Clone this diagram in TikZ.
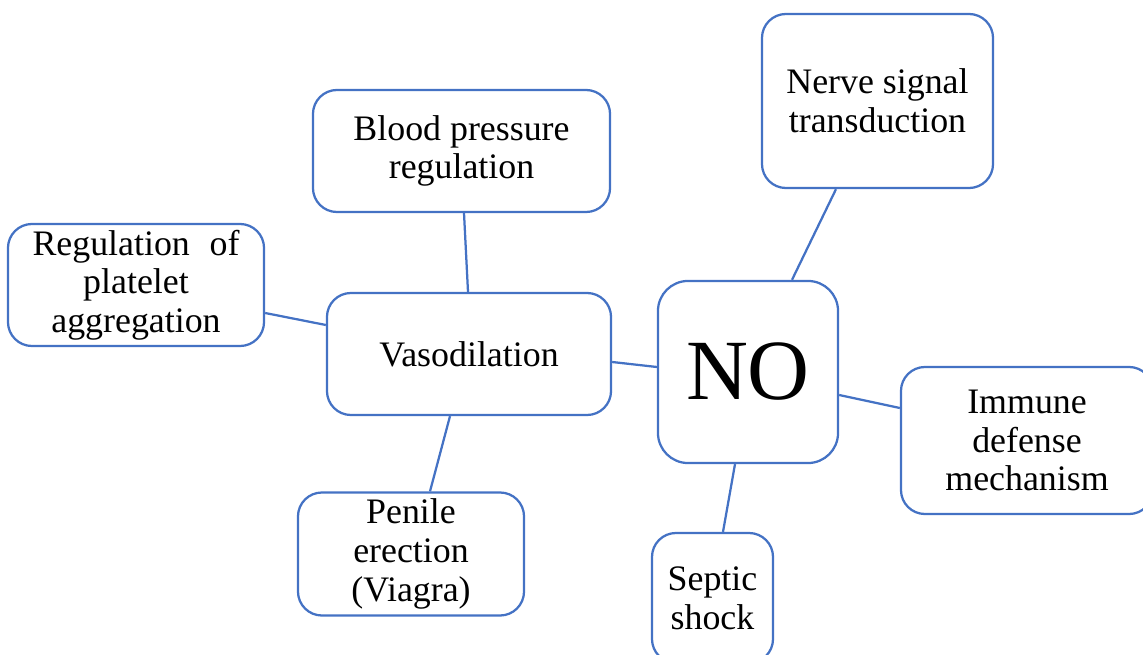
\documentclass[tikz,border=0pt]{standalone}
\usepackage{fontspec}
\setmainfont{Liberation Serif}
\usetikzlibrary{calc,positioning}
\definecolor{nodeblue}{HTML}{4472C4}

\begin{document}
\begin{tikzpicture}[x=0.025cm, y=-0.025cm]
\tikzstyle{box}=[rectangle, rounded corners=0.6cm, draw=nodeblue, line width=1.6pt, fill=white, align=center, inner sep=0pt, font=\fontsize{25.5}{27.5}\selectfont]
\tikzstyle{connect}=[draw=nodeblue, line width=1.6pt]

\useasboundingbox (0,0) rectangle (1143,655);
\clip (0,0) rectangle (1143,655);

\node[box, minimum width=4.5cm, minimum height=4.55cm, rounded corners=0.75cm, font=\fontsize{61}{61}\selectfont] at (748,372) (no) {NO};
\node[box, minimum width=7.1cm, minimum height=3.05cm] at (469,354) (vaso) {Vasodilation};
\node[box, minimum width=5.775cm, minimum height=4.35cm] at (877.5,101) (nerve) {Nerve signal\\transduction};
\node[box, minimum width=7.425cm, minimum height=3.05cm] at (461.5,151) (blood) {Blood pressure\\regulation};
\node[box, minimum width=6.4cm, minimum height=3.05cm] at (136,285) (platelet) {Regulation\hspace{0.3em} of\\platelet\\aggregation};
\node[box, minimum width=6.3cm, minimum height=3.675cm] at (1027,440.5) (immune) {Immune\\defense\\mechanism};
\node[box, minimum width=5.65cm, minimum height=3.075cm] at (411,554) (penile) {Penile\\erection\\(Viagra)};
\node[box, minimum width=3.025cm, minimum height=3.25cm] at (712.5,598) (septic) {Septic\\shock};

% links
\path ($(nerve.south)+(-41.5,0)$) edge [connect] ($(no.north)+(44,0)$);
\path ($(blood.south)+(2.5,0)$) edge [connect] ($(vaso.north)+(-1,0)$);
\path ($(platelet.east)+(0,28)$) edge [connect] ($(vaso.west)+(0,-29)$);
\path ($(vaso.east)+(0,8)$) edge [connect] ($(no.west)+(0,-5)$);
\path ($(vaso.south)+(-19,0)$) edge [connect] ($(penile.north)+(19,0)$);
\path ($(no.south)+(-13,0)$) edge [connect] ($(septic.north)+(10.5,0)$);
\path ($(no.east)+(0,23)$) edge [connect] ($(immune.west)+(0,-32.5)$);
\end{tikzpicture}
\end{document}
